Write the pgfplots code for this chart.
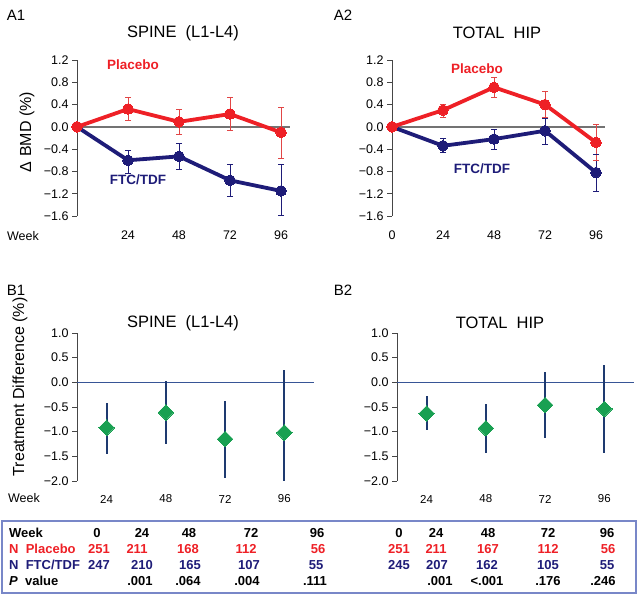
\documentclass[border=0pt]{standalone}
\usepackage{pgfplots}
\pgfplotsset{compat=1.18}
\usepackage{fontspec}
\setmainfont{Liberation Sans}
\definecolor{redP}{RGB}{238,32,38}
\definecolor{redE}{RGB}{225,70,70}
\definecolor{navy}{RGB}{30,28,120}
\definecolor{axgray}{RGB}{70,70,70}
\definecolor{zgray}{RGB}{115,115,115}
\definecolor{bzero}{RGB}{55,85,150}
\definecolor{berr}{RGB}{30,58,112}
\definecolor{dgreen}{RGB}{25,160,82}
\definecolor{boxc}{RGB}{120,135,200}
\newcommand\fs[1]{\fontsize{#1}{#1}\selectfont}

\pgfplotstableread{
x y ep em lo hi
0 0 0 0 0 0
24 0.32 0.20 0.20 0.12 0.52
48 0.09 0.23 0.22 -0.13 0.32
72 0.23 0.29 0.29 -0.06 0.52
96 -0.10 0.45 0.47 -0.57 0.35
}\AonePla
\pgfplotstableread{
x y ep em lo hi
0 0 0 0 0 0
24 -0.60 0.17 0.23 -0.83 -0.43
48 -0.53 0.23 0.24 -0.77 -0.30
72 -0.96 0.29 0.28 -1.24 -0.67
96 -1.15 0.47 0.44 -1.59 -0.68
}\AoneFtc
\pgfplotstableread{
x y ep em lo hi
0 0 0 0 0 0
24 0.30 0.10 0.13 0.17 0.40
48 0.71 0.18 0.18 0.53 0.89
72 0.40 0.23 0.23 0.17 0.63
96 -0.28 0.33 0.32 -0.60 0.05
}\AtwoPla
\pgfplotstableread{
x y ep em lo hi
0 0 0 0 0 0
24 -0.34 0.13 0.12 -0.46 -0.21
48 -0.22 0.18 0.18 -0.40 -0.04
72 -0.07 0.23 0.24 -0.31 0.16
96 -0.82 0.33 0.33 -1.15 -0.49
}\AtwoFtc
\pgfplotstableread{
x y ep em
24 -0.92 0.51 0.53
48 -0.61 0.64 0.63
72 -1.15 0.77 0.78
96 -1.02 1.26 0.98
}\Bone
\pgfplotstableread{
x y ep em
24 -0.63 0.35 0.33
48 -0.93 0.49 0.50
72 -0.46 0.66 0.66
96 -0.54 0.90 0.89
}\Btwo

\pgfplotsset{
  common/.style={scale only axis, clip=false,
    axis y line=left, axis x line=bottom,
    axis line style={-, draw=axgray, line width=0.9pt},
    x axis line style={draw=none},
    xtick style={draw=none},
    ytick style={draw=axgray, line width=0.9pt},
    tick align=outside, major tick length=5pt, minor tick num=0,
    yticklabel style={font=\fs{12.5}, anchor=east},
    xticklabel style={font=\fs{12.5}, anchor=center},
  },
  Astyle/.style={common, width=212.5pt, height=156pt,
    xmin=0, xmax=100, ymin=-1.6, ymax=1.2,
    ytick={-1.6,-1.2,-0.8,-0.4,0,0.4,0.8,1.2},
    yticklabels={−1.6,−1.2,−0.8,−0.4,0.0,0.4,0.8,1.2},
    xticklabel style={yshift=-14pt},
  },
  Bstyle/.style={common, width=237pt, height=148pt,
    xmin=12, xmax=108, ymin=-2, ymax=1,
    ytick={-2,-1.5,-1,-0.5,0,0.5,1},
    yticklabels={−2.0,−1.5,−1.0,−0.5,0.0,0.5,1.0},
    xtick={24,48,72,96}, xticklabels={24,48,72,96},
    xticklabel style={yshift=-13pt, font=\fs{11.5}},
  },
  errs/.style={draw=none, mark=none,
    error bars/.cd, y dir=both, y explicit, error mark=none,
    error bar style={#1, line width=0.8pt}},
  caps/.style={#1, only marks, mark=-, mark size=3pt,
    mark options={solid, draw=#1, line width=0.8pt}},
  ser/.style={#1, line width=3.8pt, mark=*, mark size=5.3pt,
    mark options={solid, fill=#1, draw=#1, line width=0pt}},
  dif/.style={draw=none, mark=square*, mark size=5.5pt,
    mark options={rotate=45, fill=dgreen, draw=dgreen, line width=0pt},
    error bars/.cd, y dir=both, y explicit, error mark=none,
    error bar style={berr, line width=2pt}},
}

\begin{document}
\begin{tikzpicture}[x=1pt,y=1pt]
\useasboundingbox (0pt,0pt) rectangle (640pt,597pt);

% ---------- A1 ----------
\begin{axis}[Astyle, at={(77pt,381pt)}, anchor=south west,
  xtick={24,48,72,96}, xticklabels={24,48,72,96}]
  \addplot[zgray, line width=1.3pt] coordinates {(0,0) (100,0)};
  \addplot[errs=navy] table[x=x, y=y, y error plus=ep, y error minus=em] {\AoneFtc};
  \addplot[caps=navy] table[x=x, y=hi] {\AoneFtc};
  \addplot[caps=navy] table[x=x, y=lo] {\AoneFtc};
  \addplot[ser=navy] table[x=x, y=y] {\AoneFtc};
  \addplot[errs=redE] table[x=x, y=y, y error plus=ep, y error minus=em] {\AonePla};
  \addplot[caps=redE] table[x=x, y=hi] {\AonePla};
  \addplot[caps=redE] table[x=x, y=lo] {\AonePla};
  \addplot[ser=redP] table[x=x, y=y] {\AonePla};
\end{axis}

% ---------- A2 ----------
\begin{axis}[Astyle, at={(392pt,381pt)}, anchor=south west,
  xtick={0,24,48,72,96}, xticklabels={0,24,48,72,96}]
  \addplot[zgray, line width=1.3pt] coordinates {(0,0) (100,0)};
  \addplot[errs=navy] table[x=x, y=y, y error plus=ep, y error minus=em] {\AtwoFtc};
  \addplot[caps=navy] table[x=x, y=hi] {\AtwoFtc};
  \addplot[caps=navy] table[x=x, y=lo] {\AtwoFtc};
  \addplot[ser=navy] table[x=x, y=y] {\AtwoFtc};
  \addplot[errs=redE] table[x=x, y=y, y error plus=ep, y error minus=em] {\AtwoPla};
  \addplot[caps=redE] table[x=x, y=hi] {\AtwoPla};
  \addplot[caps=redE] table[x=x, y=lo] {\AtwoPla};
  \addplot[ser=redP] table[x=x, y=y] {\AtwoPla};
\end{axis}

% ---------- B1 ----------
\begin{axis}[Bstyle, at={(77pt,116pt)}, anchor=south west]
  \addplot[bzero, line width=1pt] coordinates {(12,0) (108,0)};
  \addplot[dif] table[x=x, y=y, y error plus=ep, y error minus=em] {\Bone};
\end{axis}

% ---------- B2 ----------
\begin{axis}[Bstyle, at={(397pt,116pt)}, anchor=south west]
  \addplot[bzero, line width=1pt] coordinates {(12,0) (108,0)};
  \addplot[dif] table[x=x, y=y, y error plus=ep, y error minus=em] {\Btwo};
\end{axis}

% ---------- texts ----------
\node[font=\fs{15}] at (16pt,582pt) {A1};
\node[font=\fs{15}] at (343pt,582pt) {A2};
\node[font=\fs{15}] at (16pt,307pt) {B1};
\node[font=\fs{15}] at (343pt,307pt) {B2};

\node[font=\fs{16.5}] at (183pt,564pt) {SPINE\ \ (L1-L4)};
\node[font=\fs{16.5}] at (497pt,564pt) {TOTAL\ \ HIP};
\node[font=\fs{16.5}] at (183pt,274pt) {SPINE\ \ (L1-L4)};
\node[font=\fs{16.5}] at (500pt,274pt) {TOTAL\ \ HIP};

\node[font=\fs{16}, rotate=90] at (27pt,465pt) {Δ BMD (\%)};
\node[font=\fs{16}, rotate=90] at (20pt,210pt) {Treatment Difference (\%)};

\node[font=\fs{12.5}] at (23pt,361pt) {Week};
\node[font=\fs{12.5}] at (24pt,99pt) {Week};

\node[font=\bfseries\fs{13.5}, text=redP] at (133pt,532pt) {Placebo};
\node[font=\bfseries\fs{13.5}, text=navy] at (138pt,417pt) {FTC/TDF};
\node[font=\bfseries\fs{13.5}, text=redP] at (477pt,528pt) {Placebo};
\node[font=\bfseries\fs{13.5}, text=navy] at (482pt,428pt) {FTC/TDF};

% ---------- table ----------
\draw[boxc, line width=1.3pt] (2pt,4pt) rectangle (636pt,76pt);
\begin{scope}[every node/.style={font=\bfseries\fs{13}, inner sep=0pt}]
  \node[anchor=west] at (9pt,64pt) {Week};
  \node[anchor=west, text=redP] at (9pt,48pt) {N\ \ Placebo};
  \node[anchor=west, text=navy] at (9pt,32pt) {N\ \ FTC/TDF};
  \node[anchor=west] at (9pt,16pt) {\textit{P}\ \ value};
  \foreach \xx/\t in {97/0,142/24,189/48,251/72,317/96,399/0,436/24,488/48,548/72,607/96}
    \node at (\xx pt,64pt) {\t};
  \foreach \xx/\t in {99/251,137/211,188/168,246/112,318/56,399/251,436/211,488/167,548/112,608/56}
    \node[text=redP] at (\xx pt,48pt) {\t};
  \foreach \xx/\t in {99/247,142/210,190/165,249/107,316/55,399/245,437/207,487/162,548/105,607/55}
    \node[text=navy] at (\xx pt,32pt) {\t};
  \foreach \xx/\t in {140/.001,188/.064,247/.004,315/.111,440/.001,487/<.001,548/.176,603/.246}
    \node at (\xx pt,16pt) {\t};
\end{scope}
\end{tikzpicture}
\end{document}
